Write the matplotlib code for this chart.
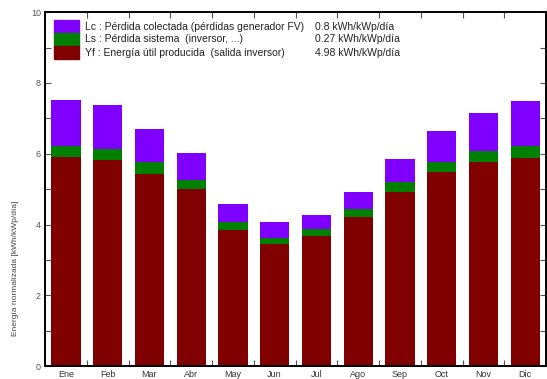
import matplotlib.pyplot as plt
import numpy as np
from matplotlib.patches import Rectangle

plt.rcParams["font.family"] = ["Liberation Sans", "DejaVu Sans"]

# Balance energético normalizado por mes (kWh/kWp/día)
meses = ["Ene", "Feb", "Mar", "Abr", "May", "Jun",
         "Jul", "Ago", "Sep", "Oct", "Nov", "Dic"]
yf = [5.92, 5.82, 5.44, 5.00, 3.84, 3.44, 3.67, 4.22, 4.92, 5.47, 5.76, 5.89]
ls = [0.31, 0.30, 0.33, 0.27, 0.24, 0.19, 0.21, 0.23, 0.27, 0.30, 0.32, 0.32]
lc = [1.28, 1.26, 0.94, 0.76, 0.50, 0.43, 0.40, 0.47, 0.67, 0.86, 1.08, 1.27]

leyenda = [
    ("Lc : Pérdida colectada (pérdidas generador FV)", "0.8 kWh/kWp/día"),
    ("Ls : Pérdida sistema  (inversor, ...)", "0.27 kWh/kWp/día"),
    ("Yf : Energía útil producida  (salida inversor)", "4.98 kWh/kWp/día"),
]

c_lc = "#7f00ff"
c_ls = "#008000"
c_yf = "#800000"

fig = plt.figure(figsize=(5.47, 3.79), dpi=100)
ax = fig.add_axes([0.0823, 0.034, 0.916, 0.934])

x = np.arange(len(meses))
yf_arr = np.array(yf)
ls_arr = np.array(ls)
ax.bar(x, yf, width=0.7, color=c_yf)
ax.bar(x, ls, width=0.7, bottom=yf_arr, color=c_ls)
ax.bar(x, lc, width=0.7, bottom=yf_arr + ls_arr, color=c_lc)

ax.set_xlim(-0.5, len(meses) - 0.5)
ax.set_ylim(0, 10)

# Ticks: etiquetas en el centro del mes, marcas en los límites
ax.set_xticks(x)
ax.set_xticklabels(meses)
ax.set_xticks(np.arange(0.5, len(meses) - 0.5), minor=True)
ax.tick_params(axis="x", which="major", length=0, labelsize=6.5,
               labelcolor="#333333", pad=2.5)
ax.tick_params(axis="x", which="minor", direction="in", length=4,
               top=True, bottom=True, width=0.8, color="#555555")
ax.set_yticks(np.arange(0, 11, 2))
ax.set_yticks(np.arange(1, 10, 2), minor=True)
ax.tick_params(axis="y", which="both", direction="in", length=4,
               left=True, right=True, width=0.8, color="#555555",
               labelsize=6.5, labelcolor="#555555", pad=3)

for s in ax.spines.values():
    s.set_linewidth(1.4)

fig.text(0.028, 0.293, "Energía normalizada [kWh/kWp/día]", rotation=90,
         fontsize=6, color="#444444", ha="center", va="center")

# Leyenda dibujada a mano: bloques de color apilados y textos
colores = [c_lc, c_ls, c_yf]
fila_h = 13
for i, ((txt, val), col) in enumerate(zip(leyenda, colores)):
    y0 = 20 + i * fila_h
    ax.add_patch(Rectangle((54 / 547, 1 - (y0 + fila_h) / 379), 25 / 547,
                           fila_h / 379, transform=fig.transFigure,
                           color=col, clip_on=False))
    fig.text(85 / 547, 1 - (y0 + fila_h / 2) / 379, txt, fontsize=7.5,
             color="#222222", va="center")
    fig.text(315 / 547, 1 - (y0 + fila_h / 2) / 379, val, fontsize=7.5,
             color="#222222", va="center")

fig.savefig("out.png", dpi=100)
